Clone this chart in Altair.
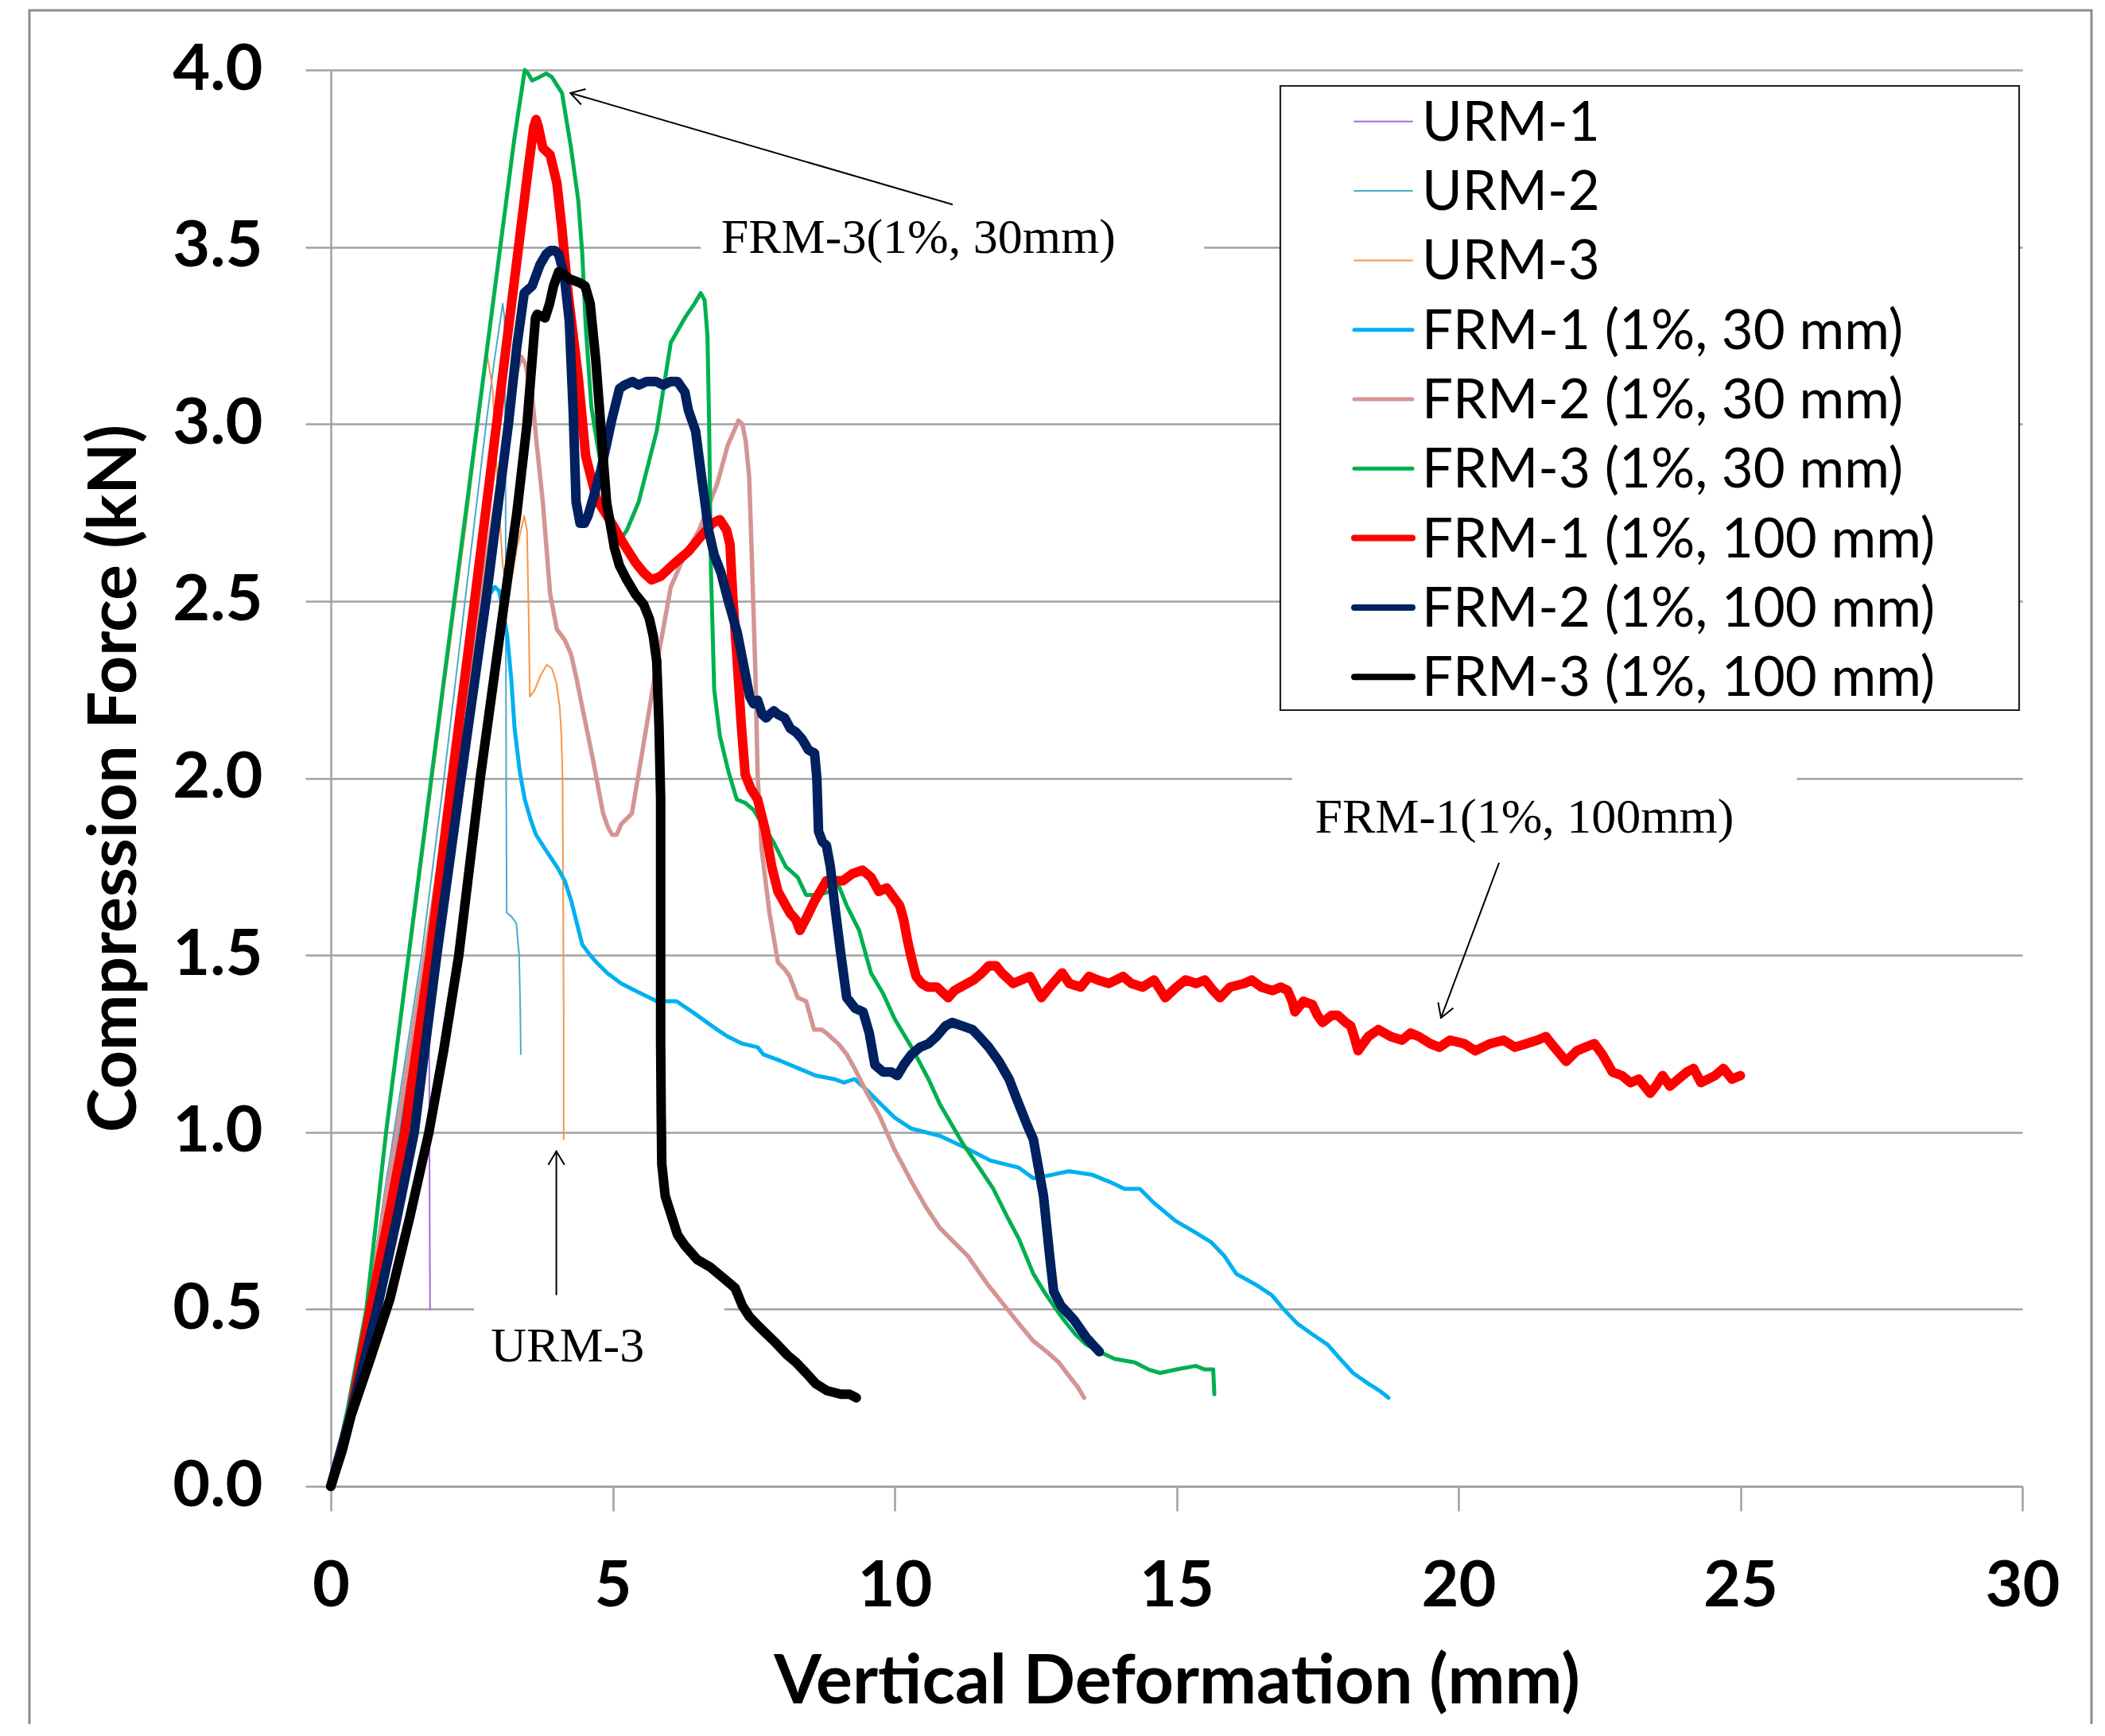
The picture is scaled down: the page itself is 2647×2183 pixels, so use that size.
import math
import altair as alt
import pandas as pd

# ---------------- data ----------------
NAMES = ["URM-1", "URM-2", "URM-3",
         "FRM-1 (1%, 30 mm)", "FRM-2 (1%, 30 mm)", "FRM-3 (1%, 30 mm)",
         "FRM-1 (1%, 100 mm)", "FRM-2 (1%, 100 mm)", "FRM-3 (1%, 100 mm)"]
COLORS = ["#9E6FD2", "#4BACC6", "#F79646",
          "#00B0F0", "#D39593", "#00B050",
          "#FF0000", "#002060", "#000000"]
LINE_W = [2, 2, 2, 5, 5.5, 5, 12, 12, 12]
LEGEND_W = [2, 2, 2, 5, 5, 5, 8, 8, 8]

X_TICKS = [0, 5, 10, 15, 20, 25, 30]
Y_TICKS = [0, 0.5, 1.0, 1.5, 2.0, 2.5, 3.0, 3.5, 4.0]

URM1 = [(0, 0), (0.35, 0.24), (0.65, 0.50), (1.0, 0.88), (1.35, 1.18), (1.6, 1.32),
        (1.72, 1.36), (1.745, 1.28), (1.75, 0.90), (1.76, 0.50)]

URM2 = [(0, 0), (0.3, 0.2), (0.6, 0.45), (1.1, 0.98), (1.61, 1.50), (2.0, 1.99),
        (2.38, 2.50), (2.77, 3.02), (2.9, 3.18), (3.05, 3.34), (3.08, 3.30), (3.10, 2.80),
        (3.11, 2.00), (3.12, 1.62), (3.2, 1.61), (3.29, 1.59), (3.34, 1.50), (3.36, 1.35),
        (3.37, 1.22)]

URM3 = [(0, 0), (0.3, 0.22), (0.63, 0.50), (0.98, 1.00), (1.5, 1.62), (2.0, 2.24),
        (2.4, 2.72), (2.77, 3.20), (2.87, 3.10), (2.95, 2.85), (3.05, 2.60), (3.12, 2.53),
        (3.2, 2.56), (3.3, 2.65), (3.43, 2.74), (3.48, 2.70), (3.51, 2.45), (3.53, 2.23),
        (3.62, 2.25), (3.72, 2.29), (3.83, 2.32), (3.92, 2.31), (4.0, 2.27), (4.06, 2.20),
        (4.09, 2.12), (4.11, 2.00), (4.12, 1.70), (4.13, 1.30), (4.13, 0.98)]

FRM1_30 = [(0, 0), (0.3, 0.18), (0.75, 0.55), (1.25, 1.02), (1.75, 1.52), (2.2, 1.98),
           (2.5, 2.24), (2.68, 2.38), (2.82, 2.52), (2.91, 2.54), (2.98, 2.53), (3.05, 2.48),
           (3.13, 2.40), (3.2, 2.28), (3.26, 2.14), (3.35, 2.02), (3.44, 1.94), (3.55, 1.88),
           (3.64, 1.84), (3.8, 1.80), (4.01, 1.75), (4.15, 1.71), (4.27, 1.65), (4.38, 1.58),
           (4.46, 1.53), (4.6, 1.50), (4.71, 1.48), (4.9, 1.45), (5.15, 1.42), (5.4, 1.40),
           (5.78, 1.37), (6.13, 1.37), (6.41, 1.34), (6.85, 1.29), (7.04, 1.27), (7.3, 1.25),
           (7.57, 1.24), (7.67, 1.22), (8.0, 1.20), (8.3, 1.18), (8.6, 1.16), (8.93, 1.15),
           (9.1, 1.14), (9.29, 1.15), (9.5, 1.12), (9.75, 1.08), (10.01, 1.04), (10.3, 1.01),
           (10.8, 0.99), (11.27, 0.955), (11.7, 0.92), (12.2, 0.90), (12.46, 0.87), (12.8, 0.88),
           (13.09, 0.89), (13.5, 0.88), (13.81, 0.86), (14.08, 0.84), (14.35, 0.84), (14.6, 0.80),
           (14.98, 0.75), (15.3, 0.72), (15.61, 0.69), (15.85, 0.65), (16.06, 0.60), (16.4, 0.57),
           (16.69, 0.54), (16.9, 0.50), (17.14, 0.46), (17.4, 0.43), (17.68, 0.40), (17.9, 0.36),
           (18.13, 0.32), (18.4, 0.29), (18.6, 0.27), (18.76, 0.25)]

FRM2_30 = [(0, 0), (0.3, 0.2), (0.65, 0.5), (1.17, 1.0), (1.67, 1.5), (2.2, 2.05),
           (2.7, 2.55), (3.1, 2.97), (3.3, 3.15), (3.38, 3.19), (3.45, 3.17), (3.57, 3.08),
           (3.66, 2.93), (3.76, 2.78), (3.84, 2.62), (3.89, 2.52), (4.01, 2.42), (4.15, 2.39),
           (4.26, 2.35), (4.36, 2.28), (4.46, 2.20), (4.64, 2.06), (4.83, 1.90), (4.92, 1.86),
           (4.99, 1.84), (5.07, 1.84), (5.15, 1.87), (5.34, 1.90), (5.53, 2.08), (5.78, 2.32),
           (6.03, 2.54), (6.25, 2.62), (6.53, 2.70), (6.85, 2.83), (7.04, 2.94), (7.15, 2.98),
           (7.23, 3.01), (7.3, 3.00), (7.36, 2.95), (7.42, 2.85), (7.46, 2.66), (7.53, 2.30),
           (7.57, 2.01), (7.64, 1.80), (7.78, 1.62), (7.93, 1.48), (8.05, 1.46), (8.14, 1.44),
           (8.28, 1.38), (8.43, 1.37), (8.57, 1.29), (8.7, 1.29), (8.79, 1.28), (9.0, 1.25),
           (9.15, 1.22), (9.29, 1.18), (9.51, 1.11), (9.72, 1.05), (10.0, 0.95), (10.3, 0.86),
           (10.55, 0.79), (10.8, 0.73), (11.05, 0.69), (11.3, 0.65), (11.65, 0.57), (12.0, 0.50),
           (12.2, 0.46), (12.46, 0.41), (12.7, 0.38), (12.91, 0.35), (13.1, 0.31), (13.25, 0.28),
           (13.36, 0.25)]

FRM3_30 = [(0, 0), (0.3, 0.22), (0.63, 0.5), (0.98, 1.0), (1.38, 1.5), (2.0, 2.27),
           (2.5, 2.88), (3.03, 3.53), (3.25, 3.80), (3.44, 4.00), (3.5, 3.99), (3.57, 3.97),
           (3.70, 3.98), (3.82, 3.99), (3.92, 3.98), (4.0, 3.96), (4.1, 3.935), (4.26, 3.78),
           (4.39, 3.63), (4.46, 3.48), (4.52, 3.28), (4.62, 3.05), (4.75, 2.92), (4.9, 2.80),
           (5.02, 2.70), (5.12, 2.67), (5.25, 2.70), (5.46, 2.78), (5.78, 2.98), (6.03, 3.23),
           (6.28, 3.30), (6.45, 3.34), (6.56, 3.37), (6.63, 3.35), (6.68, 3.25), (6.71, 3.0),
           (6.74, 2.6), (6.80, 2.25), (6.9, 2.12), (7.05, 2.02), (7.2, 1.94), (7.35, 1.93),
           (7.5, 1.91), (7.65, 1.87), (7.85, 1.82), (8.07, 1.75), (8.28, 1.72), (8.43, 1.67),
           (8.65, 1.67), (8.85, 1.68), (9.0, 1.70), (9.15, 1.64), (9.37, 1.57), (9.58, 1.45),
           (9.8, 1.39), (10.0, 1.32), (10.3, 1.24), (10.6, 1.15), (10.8, 1.08), (11.2, 0.97),
           (11.5, 0.90), (11.75, 0.84), (12.0, 0.76), (12.2, 0.70), (12.46, 0.60), (12.65, 0.55),
           (12.82, 0.51), (13.0, 0.47), (13.2, 0.43), (13.4, 0.40), (13.63, 0.38), (13.9, 0.36),
           (14.26, 0.35), (14.5, 0.33), (14.71, 0.32), (15.0, 0.33), (15.34, 0.34), (15.5, 0.33),
           (15.65, 0.33), (15.67, 0.26)]

FRM1_100 = [(0, 0), (0.35, 0.2), (0.70, 0.5), (1.0, 0.74), (1.31, 1.0), (1.76, 1.5),
            (2.15, 2.0), (2.55, 2.5), (2.94, 3.0), (3.33, 3.5), (3.5, 3.72), (3.6, 3.84),
            (3.64, 3.86), (3.68, 3.84), (3.76, 3.78), (3.89, 3.76), (4.01, 3.68), (4.1, 3.55),
            (4.2, 3.38), (4.39, 3.13), (4.52, 2.91), (4.71, 2.79), (5.02, 2.71), (5.2, 2.66),
            (5.4, 2.61), (5.55, 2.58), (5.69, 2.56), (5.85, 2.57), (6.05, 2.60), (6.34, 2.64),
            (6.55, 2.68), (6.77, 2.72), (6.9, 2.73), (7.02, 2.70), (7.08, 2.66), (7.13, 2.51),
            (7.2, 2.35), (7.28, 2.15), (7.35, 2.01), (7.45, 1.97), (7.57, 1.94), (7.71, 1.85),
            (7.82, 1.75), (7.93, 1.68), (8.14, 1.62), (8.25, 1.60), (8.32, 1.57), (8.45, 1.61),
            (8.57, 1.65), (8.79, 1.71), (9.08, 1.71), (9.25, 1.73), (9.43, 1.74), (9.58, 1.72),
            (9.72, 1.68), (9.86, 1.69), (10.09, 1.64), (10.16, 1.60), (10.23, 1.54), (10.3, 1.49),
            (10.38, 1.44), (10.48, 1.42), (10.59, 1.41), (10.75, 1.41), (10.95, 1.38), (11.06, 1.40),
            (11.17, 1.41), (11.4, 1.43), (11.55, 1.45), (11.67, 1.47), (11.8, 1.47), (11.9, 1.45),
            (12.1, 1.42), (12.25, 1.43), (12.4, 1.44), (12.6, 1.38), (12.75, 1.41), (12.97, 1.45),
            (13.1, 1.42), (13.3, 1.41), (13.45, 1.44), (13.6, 1.43), (13.8, 1.42), (14.05, 1.44),
            (14.2, 1.42), (14.4, 1.41), (14.6, 1.43), (14.8, 1.38), (15.0, 1.41), (15.16, 1.43),
            (15.35, 1.42), (15.5, 1.43), (15.65, 1.40), (15.77, 1.38), (15.95, 1.41), (16.2, 1.42),
            (16.33, 1.43), (16.5, 1.41), (16.7, 1.40), (16.85, 1.41), (16.97, 1.40), (17.05, 1.37),
            (17.1, 1.34), (17.25, 1.37), (17.41, 1.36), (17.5, 1.33), (17.59, 1.31), (17.75, 1.33),
            (17.86, 1.33), (18.0, 1.31), (18.09, 1.30), (18.15, 1.27), (18.22, 1.23), (18.4, 1.27),
            (18.58, 1.29), (18.8, 1.27), (19.0, 1.26), (19.15, 1.28), (19.3, 1.27), (19.5, 1.25),
            (19.66, 1.24), (19.85, 1.26), (20.1, 1.25), (20.3, 1.23), (20.56, 1.25), (20.8, 1.26),
            (21.0, 1.24), (21.2, 1.25), (21.4, 1.26), (21.55, 1.27), (21.7, 1.24), (21.91, 1.20),
            (22.1, 1.23), (22.25, 1.24), (22.41, 1.25), (22.55, 1.22), (22.73, 1.17), (22.9, 1.16),
            (23.05, 1.14), (23.2, 1.15), (23.4, 1.11), (23.5, 1.13), (23.62, 1.16), (23.75, 1.13),
            (23.9, 1.15), (24.05, 1.17), (24.17, 1.18), (24.3, 1.14), (24.43, 1.15), (24.55, 1.16),
            (24.7, 1.18), (24.85, 1.15), (25.0, 1.16)]

FRM2_100 = [(0, 0), (0.35, 0.2), (0.82, 0.5), (1.15, 0.74), (1.48, 1.0), (1.88, 1.5),
            (2.31, 2.0), (2.75, 2.5), (3.15, 3.0), (3.3, 3.22), (3.43, 3.37), (3.57, 3.39),
            (3.71, 3.45), (3.82, 3.48), (3.90, 3.49), (3.97, 3.49), (4.04, 3.48), (4.14, 3.42),
            (4.23, 3.29), (4.30, 3.03), (4.35, 2.78), (4.42, 2.72), (4.50, 2.72), (4.56, 2.74),
            (4.67, 2.80), (4.79, 2.87), (4.9, 2.95), (4.98, 3.01), (5.12, 3.10), (5.21, 3.11),
            (5.35, 3.12), (5.46, 3.11), (5.6, 3.12), (5.77, 3.12), (5.9, 3.11), (6.02, 3.12),
            (6.15, 3.12), (6.28, 3.09), (6.34, 3.04), (6.47, 2.98), (6.56, 2.87), (6.70, 2.70),
            (6.8, 2.63), (6.92, 2.58), (7.05, 2.50), (7.21, 2.41), (7.32, 2.32), (7.43, 2.23),
            (7.5, 2.21), (7.57, 2.22), (7.65, 2.18), (7.72, 2.17), (7.78, 2.18), (7.86, 2.19),
            (7.93, 2.18), (8.05, 2.17), (8.15, 2.14), (8.25, 2.13), (8.36, 2.11), (8.47, 2.08),
            (8.58, 2.07), (8.62, 2.00), (8.65, 1.85), (8.72, 1.82), (8.79, 1.81), (8.86, 1.75),
            (8.93, 1.65), (9.04, 1.51), (9.15, 1.38), (9.3, 1.35), (9.44, 1.34), (9.55, 1.28),
            (9.65, 1.19), (9.8, 1.17), (9.94, 1.17), (10.05, 1.16), (10.16, 1.19), (10.3, 1.22),
            (10.45, 1.24), (10.6, 1.25), (10.74, 1.27), (10.9, 1.30), (11.02, 1.31), (11.2, 1.30),
            (11.38, 1.29), (11.5, 1.27), (11.67, 1.24), (11.85, 1.20), (12.03, 1.15), (12.15, 1.10),
            (12.25, 1.06), (12.35, 1.02), (12.46, 0.98), (12.55, 0.90), (12.64, 0.82), (12.75, 0.65),
            (12.82, 0.55), (12.95, 0.51), (13.18, 0.47), (13.4, 0.42), (13.63, 0.38)]

FRM3_100 = [(0, 0), (0.2, 0.1), (0.36, 0.2), (0.7, 0.36), (1.05, 0.53), (1.4, 0.76),
            (1.74, 1.0), (2.0, 1.23), (2.27, 1.5), (2.65, 2.0), (3.08, 2.5), (3.3, 2.75),
            (3.48, 3.0), (3.58, 3.2), (3.63, 3.30), (3.66, 3.31), (3.80, 3.30), (3.88, 3.34),
            (3.95, 3.39), (4.04, 3.43), (4.15, 3.42), (4.23, 3.41), (4.4, 3.40), (4.51, 3.39),
            (4.6, 3.34), (4.7, 3.18), (4.79, 2.99), (4.89, 2.78), (5.03, 2.65), (5.12, 2.60),
            (5.25, 2.56), (5.4, 2.52), (5.55, 2.49), (5.65, 2.45), (5.72, 2.40), (5.78, 2.33),
            (5.82, 2.15), (5.85, 1.94), (5.85, 1.60), (5.85, 1.25), (5.86, 1.05), (5.87, 0.91),
            (5.93, 0.82), (6.03, 0.77), (6.15, 0.71), (6.28, 0.68), (6.5, 0.64), (6.72, 0.62),
            (6.95, 0.59), (7.17, 0.56), (7.3, 0.51), (7.42, 0.48), (7.6, 0.45), (7.86, 0.41),
            (8.1, 0.37), (8.25, 0.35), (8.43, 0.32), (8.6, 0.29), (8.8, 0.27), (9.05, 0.26),
            (9.2, 0.26), (9.32, 0.25)]

SERIES = [URM1, URM2, URM3, FRM1_30, FRM2_30, FRM3_30, FRM1_100, FRM2_100, FRM3_100]

# annotations (data coordinates)
ANN_TEXT = ["FRM-3(1%, 30mm)", "URM-3", "FRM-1(1%, 100mm)"]
ANN_X = [10.42, 4.20, 21.17]
ANN_Y = [3.527, 0.395, 1.889]
BOX_X1 = [6.56, 2.54, 17.05]
BOX_X2 = [15.49, 6.98, 26.0]
BOX_Y1 = [3.40, 0.30, 1.78]
BOX_Y2 = [3.66, 0.56, 2.05]
ARROW_TAIL_X = [11.03, 4.00, 20.72]
ARROW_TAIL_Y = [3.62, 0.54, 1.761]
ARROW_HEAD_X = [4.25, 4.00, 19.69]
ARROW_HEAD_Y = [3.935, 0.946, 1.323]

# ---------------- layout ----------------
W, H = 2127, 1781
SX, SY = W / 30.0, H / 4.0
GRAY = "#A0A0A0"
xsc = alt.Scale(domain=[0, 30], nice=False, zero=True)
ysc = alt.Scale(domain=[0, 4], nice=False, zero=True)

one = pd.DataFrame({"a": [0]})

x_axis = alt.Axis(values=X_TICKS, format="d", title="Vertical Deformation (mm)", grid=False,
                  domainColor=GRAY, domainWidth=2.5, tickColor=GRAY, tickWidth=2.5, tickSize=31,
                  labelFont="Lato", labelFontWeight="bold", labelFontSize=81, labelColor="black",
                  labelPadding=55, labelFlush=False, labelOverlap=False,
                  titleFont="Lato", titleFontWeight="bold", titleFontSize=86, titleColor="black",
                  titleY=246, titleBaseline="middle")
y_axis = alt.Axis(values=Y_TICKS, format=".1f", title="Compression Force (kN)", grid=True,
                  gridColor=GRAY, gridWidth=2.5,
                  domainColor=GRAY, domainWidth=2.5, tickColor=GRAY, tickWidth=2.5, tickSize=32,
                  labelFont="Lato", labelFontWeight="bold", labelFontSize=81, labelColor="black",
                  labelPadding=54, labelFlush=False, labelOverlap=False, labelBaseline="middle",
                  titleFont="Lato", titleFontWeight="bold", titleFontSize=84, titleColor="black",
                  titleAngle=270, titleX=-271, titleBaseline="middle")


def X(field):
    return alt.X(field, scale=xsc, axis=x_axis)


def Y(field):
    return alt.Y(field, scale=ysc, axis=y_axis)


layers = []

# outer chart-area frame
layers.append(alt.Chart(one).mark_rect(fillOpacity=0, stroke="#8C8C8C", strokeWidth=3).encode(
    x=alt.value(-379), x2=alt.value(2214), y=alt.value(-75), y2=alt.value(2300)))

# white text boxes that interrupt gridlines
boxes = pd.DataFrame({"x1": BOX_X1, "x2": BOX_X2, "y1": BOX_Y1, "y2": BOX_Y2})
layers.append(alt.Chart(boxes).mark_rect(color="white").encode(
    x=X("x1:Q"), x2="x2:Q", y=Y("y1:Q"), y2="y2:Q"))

# series
for pts, col, lw in zip(SERIES, COLORS, LINE_W):
    df = pd.DataFrame({"x": [p[0] for p in pts], "y": [p[1] for p in pts],
                       "i": list(range(len(pts)))})
    layers.append(alt.Chart(df).mark_line(color=col, strokeWidth=lw, strokeJoin="round",
                                          strokeCap="round").encode(
        x=X("x:Q"), y=Y("y:Q"), order="i:Q"))

# legend (manual, to match the boxed Excel legend)
LEG_X0, LEG_X1, LEG_Y0, LEG_Y1 = 1194, 2123, 20, 805
layers.append(alt.Chart(one).mark_rect(fill="white", stroke="#222222", strokeWidth=2.2).encode(
    x=alt.value(LEG_X0), x2=alt.value(LEG_X1), y=alt.value(LEG_Y0), y2=alt.value(LEG_Y1)))
for k, (nm, col, lw) in enumerate(zip(NAMES, COLORS, LEGEND_W)):
    yy = 64.8 + 87.3 * k
    layers.append(alt.Chart(one).mark_rule(color=col, strokeWidth=lw, strokeCap="round").encode(
        x=alt.value(1287), x2=alt.value(1360), y=alt.value(yy)))
    layers.append(alt.Chart(one).mark_text(text=nm, align="left", baseline="middle",
                                           font="Lato", fontSize=69, color="black").encode(
        x=alt.value(1372), y=alt.value(yy + 3)))

# arrows
arrows = pd.DataFrame({"x": ARROW_TAIL_X, "y": ARROW_TAIL_Y,
                       "x2": ARROW_HEAD_X, "y2": ARROW_HEAD_Y})
layers.append(alt.Chart(arrows).mark_rule(color="black", strokeWidth=2).encode(
    x=X("x:Q"), x2="x2:Q", y=Y("y:Q"), y2="y2:Q"))
for tx, ty, hx, hy in zip(ARROW_TAIL_X, ARROW_TAIL_Y, ARROW_HEAD_X, ARROW_HEAD_Y):
    dx = (hx - tx) * SX
    dy = -(hy - ty) * SY
    ang = math.degrees(math.atan2(dx, -dy)) % 360
    head = pd.DataFrame({"x": [hx], "y": [hy]})
    layers.append(alt.Chart(head).mark_point(shape="M -0.6 1 L 0 0 L 0.6 1", filled=False,
                                             color="black", strokeWidth=2, size=1156,
                                             opacity=1, angle=ang).encode(
        x=X("x:Q"), y=Y("y:Q")))

# annotation texts
ann = pd.DataFrame({"t": ANN_TEXT, "x": ANN_X, "y": ANN_Y})
layers.append(alt.Chart(ann).mark_text(font="Liberation Serif", fontSize=62, color="black",
                                       align="center", baseline="middle").encode(
    x=X("x:Q"), y=Y("y:Q"), text="t:N"))

chart = alt.layer(*layers).properties(
    width=W, height=H,
    autosize=alt.AutoSizeParams(type="none"),
    padding={"left": 408, "top": 80, "right": 96, "bottom": 299},
    background="white",
).configure_view(strokeWidth=0)

chart.save("out.html", embed_options={"renderer": "svg", "actions": False})
